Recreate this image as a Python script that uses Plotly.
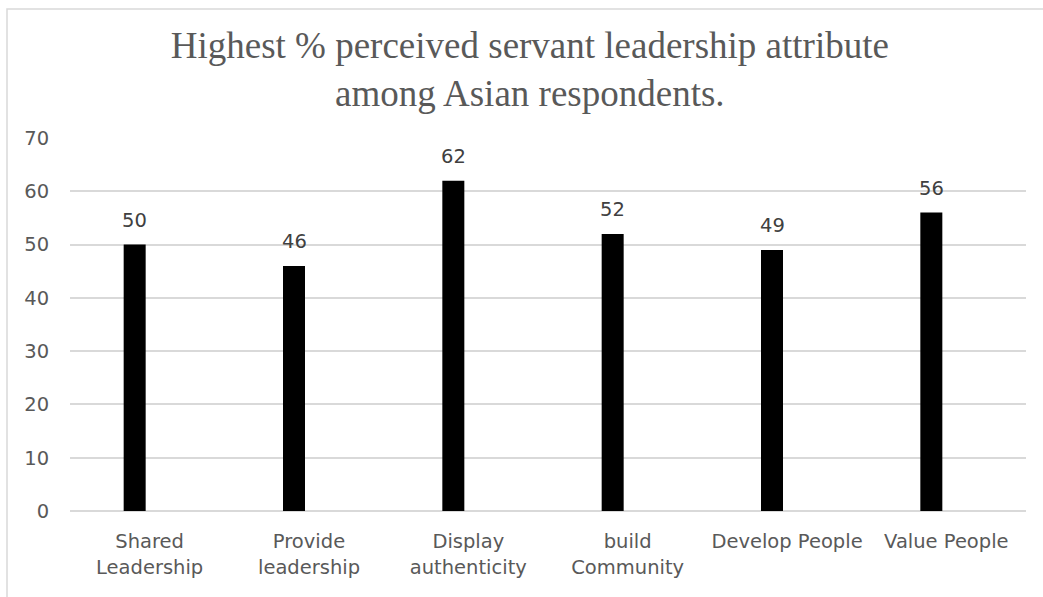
import plotly.graph_objects as go

# Survey result: share of Asian respondents naming each attribute
categories = ["Shared Leadership", "Provide leadership", "Display authenticity",
              "build Community", "Develop People", "Value People"]
tick_labels = ["Shared<br>Leadership", "Provide<br>leadership", "Display<br>authenticity",
               "build<br>Community", "Develop People", "Value People"]
values = [50, 46, 62, 52, 49, 56]
y_ticks = [0, 10, 20, 30, 40, 50, 60, 70]

W, H = 1043, 597
L, R, T, B = 70, 17, 138, 86
plot_w = W - L - R
plot_h = H - T - B
cat_px = plot_w / len(categories)

bar_w_px = 22
bar_shift_px = -15          # bars sit slightly left of the category centre
bar_width = bar_w_px / cat_px
bar_offset = bar_shift_px / cat_px - bar_width / 2

axis_font = dict(family="DejaVu Sans", size=19.5, color="#595959")

fig = go.Figure(
    go.Bar(
        x=categories,
        y=values,
        width=bar_width,
        offset=bar_offset,
        marker=dict(color="#000000", line=dict(width=0)),
        hoverinfo="skip",
    )
)

# value labels above each bar
for c, v in zip(categories, values):
    fig.add_annotation(
        x=c, y=v, text=str(v), showarrow=False,
        xanchor="center", yanchor="bottom",
        xshift=bar_shift_px, yshift=11,
        font=dict(family="DejaVu Sans", size=19.5, color="#404040"),
    )

# outer chart frame (light grey border)
def px_to_paper_x(px):
    return (px - L) / plot_w

def px_to_paper_y(py):
    return (H - B - py) / plot_h

fig.add_shape(
    type="rect", xref="paper", yref="paper",
    x0=px_to_paper_x(7), x1=px_to_paper_x(W + 20),
    y0=px_to_paper_y(H + 20), y1=px_to_paper_y(9),
    line=dict(color="#d9d9d9", width=1.5), fillcolor="rgba(0,0,0,0)",
    layer="below",
)

fig.update_layout(
    width=W, height=H,
    margin=dict(l=L, r=R, t=T, b=B, pad=0),
    paper_bgcolor="white", plot_bgcolor="white",
    showlegend=False,
    title=dict(
        text="Highest % perceived servant leadership attribute<br>among Asian respondents.",
        x=0.508, xref="container", xanchor="center",
        y=1 - 58 / H, yref="container", yanchor="top",
        font=dict(family="Liberation Serif", size=37, color="#595959"),
    ),
    xaxis=dict(
        type="category",
        tickmode="array", tickvals=categories, ticktext=tick_labels,
        tickfont=axis_font,
        showgrid=False, zeroline=False, showline=False,
        ticks="outside", ticklen=13, tickcolor="rgba(0,0,0,0)",
    ),
    yaxis=dict(
        range=[0, 70],
        tickmode="array", tickvals=y_ticks,
        tickfont=axis_font,
        showgrid=True, gridcolor="#d9d9d9", gridwidth=1.5,
        zeroline=True, zerolinecolor="#d9d9d9", zerolinewidth=1.5,
        showline=False,
        ticks="outside", ticklen=16, tickcolor="rgba(0,0,0,0)",
    ),
)

fig.write_html("out.html")
